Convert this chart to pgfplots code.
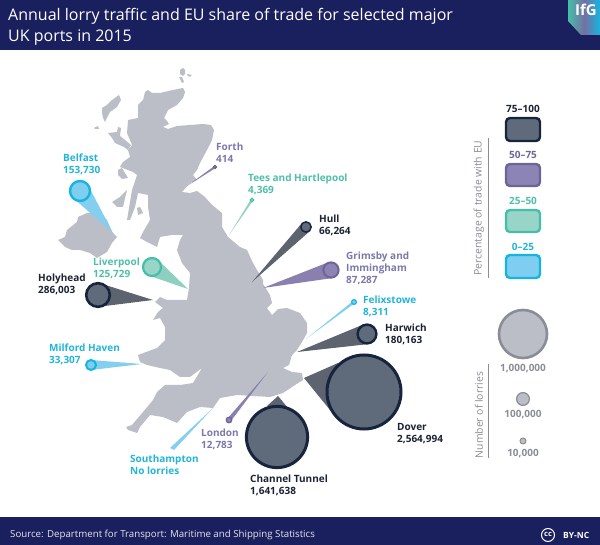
\documentclass[border=0pt]{standalone}
\usepackage{pgfplots}
\usepackage{fontspec}
\setmainfont{Open Sans}
\pgfplotsset{compat=1.18}
\definecolor{navy}{HTML}{1A1F5E}
\definecolor{land}{HTML}{BBBEC7}
\definecolor{dkS}{HTML}{17243D}\definecolor{dkF}{HTML}{5F6B7A}\definecolor{dkW}{HTML}{5D6470}
\definecolor{puS}{HTML}{6F6496}\definecolor{puF}{HTML}{8B84B4}\definecolor{puW}{HTML}{8A80B0}
\definecolor{teS}{HTML}{45BFA8}\definecolor{teF}{HTML}{98D4C8}\definecolor{teW}{HTML}{8ED0C0}
\definecolor{blS}{HTML}{15B5E0}\definecolor{blF}{HTML}{7FCDF0}\definecolor{blW}{HTML}{84CFEE}
\definecolor{dkT}{HTML}{1C2233}\definecolor{puT}{HTML}{7B78AE}\definecolor{teT}{HTML}{4DBFA8}\definecolor{blT}{HTML}{22B5D8}
\definecolor{grT}{HTML}{8A8D96}
\newcommand{\wdg}[2]{\addplot[draw=none,fill=#1] coordinates {#2};}
\newcommand{\bubble}[6]{\addplot[only marks,mark=*,mark size=#3,mark options={fill=#4,draw=#5,line width=#6}] coordinates {(#1,#2)};}
\newcommand{\lab}[4]{\node[anchor=west,align=left,text=#3,font=\fontsize{10}{12}\selectfont\bfseries,inner sep=0pt] at (axis cs:#1,#2) {#4};}
\begin{document}
\begin{tikzpicture}
\begin{axis}[x=1pt,y=1pt,y dir=reverse,xmin=0,xmax=600,ymin=0,ymax=545,hide axis,clip=false,scale only axis]
% bands
\addplot[draw=none,fill=navy] coordinates {(0,0)(600,0)(600,50)(0,50)};
\addplot[draw=none,fill=navy] coordinates {(0,517)(600,517)(600,545)(0,545)};
\shade[left color=teS,right color=blS,middle color=puF!80!navy] (axis cs:568,0)--(axis cs:600,0)--(axis cs:600,35)--(axis cs:581,35)--(axis cs:568,21)--cycle;
\node[text=white,font=\fontsize{15}{15}\selectfont\bfseries,inner sep=0pt] at (axis cs:586,10) {IfG};
\node[anchor=north west,align=left,text=white,font=\fontsize{16}{21}\selectfont,inner sep=0pt] at (axis cs:8,8) {Annual lorry traffic and EU share of trade for selected major\\UK ports in 2015};
\node[anchor=west,text=white!88!navy,font=\fontsize{9.7}{12}\selectfont,inner sep=0pt] at (axis cs:10,535) {Source: Department for Transport: Maritime and Shipping Statistics};
\draw[white,line width=1pt] (axis cs:548,535) circle[radius=6.5pt];
\node[text=white,font=\fontsize{7.5}{8}\selectfont\bfseries,inner sep=0pt] at (axis cs:548,534.5) {cc};
\node[anchor=west,text=white,font=\fontsize{8.5}{9}\selectfont\bfseries,inner sep=0pt] at (axis cs:563,535) {BY-NC};
% map
\addplot[draw=none,fill=land] coordinates {(180,70)(183,68)(185,70)(185,74)(183,76)(180,74)};
\addplot[draw=none,fill=land] coordinates {(187,74)(192,75)(190,77)(187,75)};
\addplot[draw=none,fill=land] coordinates {(179,77)(182,77)(184,82)(182,83)};
\addplot[draw=none,fill=land] coordinates {(102,108)(107,105)(112,100)(119,95)(121,100)(117,107)(110,112)(105,122)(103,118)(102,113)};
\addplot[draw=none,fill=land] coordinates {(94,128)(98,126)(99,129)(95,129)};
\addplot[draw=none,fill=land] coordinates {(108,133)(117,132)(118,127)(121,128)(120,136)(125,140)(131,145)(128,150)(124,147)(115,143)(112,138)};
\addplot[draw=none,fill=land] coordinates {(118,170)(122,168)(125,173)(128,178)(122,179)(118,175)};
\addplot[draw=none,fill=land] coordinates {(112,202)(120,197)(127,190)(125,198)(123,207)(117,207)};
\addplot[draw=none,fill=land] coordinates {(137,208)(140,207)(143,213)(138,215)};
\addplot[draw=none,fill=land] coordinates {(58,240)(65,237)(67,230)(77,222)(78,217)(87,213)(100,213)(107,220)(112,232)(117,237)(112,243)(107,252)(97,258)(90,253)(80,250)(72,250)(65,247)};
\addplot[draw=none,fill=land] coordinates {
(145,92)(148,90)(152,93)(160,93)(173,90)(183,88)(185,92)(183,98)(177,105)(168,110)(164,118)(167,121)(169,124)(163,127)(168,129)(177,126)(190,125)(203,124)(211,125)(214,130)(212,140)(207,150)(200,163)(197,170)(193,175)(197,180)(190,183)(182,192)(190,193)(197,191)(205,197)(211,204)
(222,213)(222,227)(228,237)(240,247)(247,250)(253,263)(257,270)(263,280)(263,284)(270,295)(272,303)(267,308)(272,315)(278,309)(287,308)(300,313)(307,323)(307,333)(302,342)(297,350)(292,355)(289,365)(283,368)(292,372)(302,373)(303,380)(295,385)(283,393)(270,397)(253,396)(237,395)(220,398)(213,408)(200,407)(187,412)(177,423)(163,417)(150,415)(140,427)(137,433)(128,430)(126,427)(132,425)(143,412)(153,400)(157,392)(165,385)(180,385)(193,383)(202,368)(190,377)(180,377)(170,370)(160,368)(147,365)(140,362)(138,355)(157,348)(165,340)(165,327)(160,318)(153,320)(158,312)(163,308)(155,302)(160,297)(167,300)(187,300)(189,288)(190,273)(182,263)(177,250)(180,240)(183,235)(172,235)(160,237)(157,247)(147,242)(140,238)(143,232)(150,220)(148,207)(148,195)(138,193)(135,207)(130,220)(127,220)(132,190)(137,175)(133,172)(120,167)(123,162)(130,157)(128,150)(132,145)(127,133)(128,120)(138,118)(138,105)(143,100)};
% wedges (tip, two base points)
\wdg{blW}{(113,233)(88,185)(72,197)}
\wdg{puW}{(187,186)(215.6,168)(214.4,166)}
\wdg{teW}{(229,235)(253,200.6)(251,199.4)}
\wdg{dkW}{(252,282)(310,231)(302,223)}
\wdg{puW}{(263,288)(333,278)(329,262)}
\wdg{teW}{(188,289)(157,259)(147,275)}
\wdg{dkW}{(153,300)(97,307)(99,283)}
\wdg{blW}{(142,364)(91,370)(91,360)}
\wdg{blW}{(306,339)(355,303)(353,301)}
\wdg{dkW}{(297,352)(369.5,344)(364.5,324)}
\wdg{dkW}{(304,378)(338,363)(330,410)}
\wdg{dkW}{(278,396)(267,406)(288,408)}
\wdg{puW}{(268,372)(230.5,421.5)(227.5,418.5)}
\wdg{blW}{(213,408)(170,448)(174,450)}
% bubbles: x, y, radius
\bubble{80}{191}{10}{blF}{blS}{2.4pt}
\bubble{215}{167}{1.6}{puF}{dkF}{1pt}
\bubble{252}{200}{1.8}{teF}{teS}{1pt}
\bubble{306}{227}{5.2}{dkF}{dkS}{1.4pt}
\bubble{331}{270}{7.6}{puF}{puS}{2pt}
\bubble{152}{267}{9}{teF}{teS}{2.2pt}
\bubble{98}{295}{11.8}{dkF}{dkS}{2.6pt}
\bubble{91}{365}{5}{blF}{blS}{2pt}
\bubble{354}{302}{2.4}{blF}{blS}{1.2pt}
\bubble{367}{334}{9.4}{dkF}{dkS}{2.4pt}
\bubble{364}{392}{37}{dkF}{dkS}{3pt}
\bubble{277}{437}{30.6}{dkF}{dkS}{3pt}
\bubble{229}{420}{2.8}{puF}{puS}{1.2pt}
% labels
\lab{63}{164}{blT}{Belfast\\153,730}
\lab{216}{153}{puT}{Forth\\414}
\lab{248}{184}{teT}{Tees and Hartlepool\\4,369}
\lab{319}{225}{dkT}{Hull\\66,264}
\lab{346}{268}{puT}{Grimsby and\\Immingham\\87,287}
\lab{93}{268}{teT}{Liverpool\\125,729}
\lab{38}{284}{dkT}{Holyhead\\286,003}
\lab{49}{354}{blT}{Milford Haven\\33,307}
\lab{363}{306}{blT}{Felixstowe\\8,311}
\lab{385}{334}{dkT}{Harwich\\180,163}
\lab{397}{434}{dkT}{Dover\\2,564,994}
\lab{250}{485}{dkT}{Channel Tunnel\\1,641,638}
\lab{201}{439}{puT}{London\\12,783}
\lab{130}{465}{blT}{Southampton\\No lorries}
% colour legend
\draw[dkS,fill=dkF,line width=2.4pt,rounded corners=4pt] (axis cs:506,118) rectangle (axis cs:540,141);
\draw[puS,fill=puF,line width=2.4pt,rounded corners=4pt] (axis cs:506,164) rectangle (axis cs:540,186);
\draw[teS,fill=teF,line width=2.4pt,rounded corners=4pt] (axis cs:506,210) rectangle (axis cs:540,232);
\draw[blS,fill=blF,line width=2.4pt,rounded corners=4pt] (axis cs:506,255) rectangle (axis cs:540,278);
\node[text=dkT,font=\fontsize{10}{12}\selectfont\bfseries,inner sep=0pt] at (axis cs:523,109) {75--100};
\node[text=puS,font=\fontsize{10}{12}\selectfont\bfseries,inner sep=0pt] at (axis cs:523,155) {50--75};
\node[text=teT,font=\fontsize{10}{12}\selectfont\bfseries,inner sep=0pt] at (axis cs:523,201) {25--50};
\node[text=blT,font=\fontsize{10}{12}\selectfont\bfseries,inner sep=0pt] at (axis cs:523,247) {0--25};
\draw[grT,line width=0.8pt] (axis cs:488,138) -- (axis cs:488,278);
\node[rotate=90,text=grT,font=\fontsize{10.4}{12}\selectfont,inner sep=0pt] at (axis cs:479,208) {Percentage of trade with EU};
% size legend
\bubble{523}{334}{24}{land}{grT}{2.6pt}
\bubble{523}{399}{6.4}{land}{grT}{1.2pt}
\bubble{523}{441}{3}{land}{grT}{1pt}
\node[text=grT,font=\fontsize{10}{12}\selectfont\bfseries,inner sep=0pt] at (axis cs:523,369) {1,000,000};
\node[text=grT,font=\fontsize{10}{12}\selectfont\bfseries,inner sep=0pt] at (axis cs:523,415) {100,000};
\node[text=grT,font=\fontsize{10}{12}\selectfont\bfseries,inner sep=0pt] at (axis cs:523,454) {10,000};
\draw[grT,line width=0.8pt] (axis cs:488,364) -- (axis cs:488,458);
\node[rotate=90,text=grT,font=\fontsize{10.4}{12}\selectfont,inner sep=0pt] at (axis cs:479,415) {Number of lorries};
\end{axis}
\end{tikzpicture}
\end{document}
